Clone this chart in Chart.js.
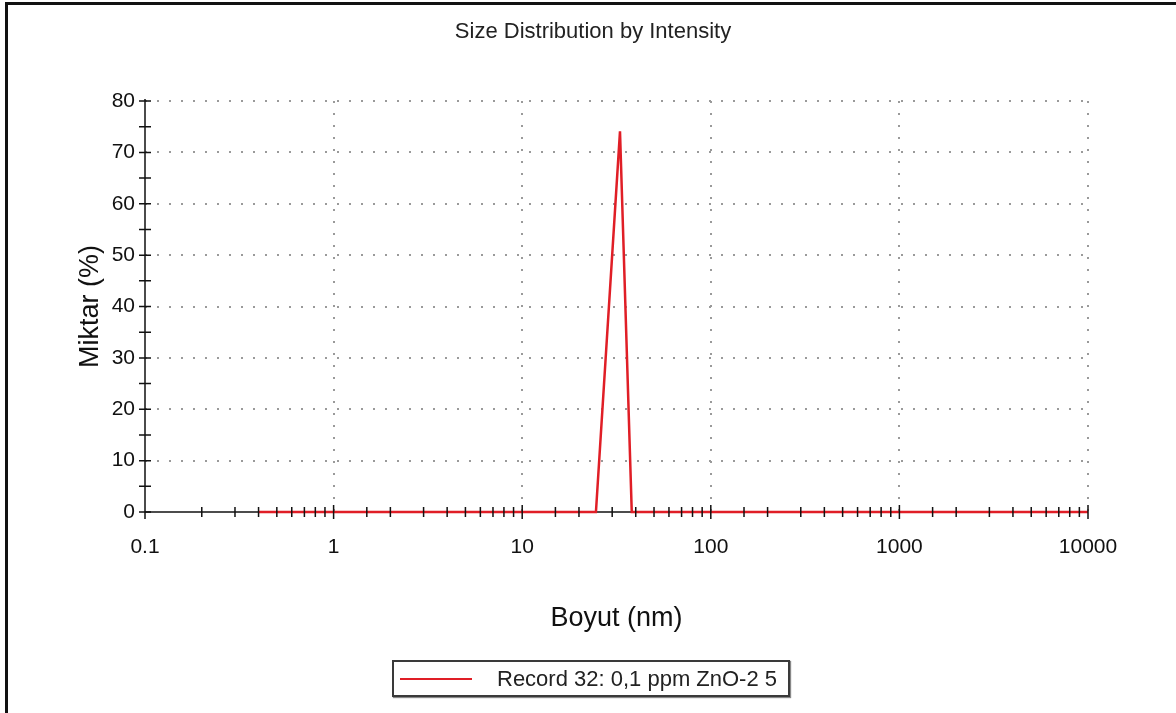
<!DOCTYPE html>
<html>
<head>
<meta charset="utf-8">
<script src="https://cdn.jsdelivr.net/npm/chart.js@4"></script>
<style>
  body { margin: 0; background: #fff; }
  #wrap { position: relative; width: 1176px; height: 713px; overflow: hidden; }
  #frame { position: absolute; left: 5px; top: 2px; right: -10px; bottom: -10px;
           border-left: 3px solid #111; border-top: 3px solid #111; pointer-events: none; }
  #legend { position: absolute; left: 392px; top: 660px; width: 394px; height: 33px;
            border: 2px solid #3a3a3a; box-shadow: 1px 1px 1px #888; background: #fff;
            font-family: 'Liberation Sans', Arial, sans-serif; font-size: 22px; color: #222;
            display: flex; align-items: center; }
  #legend .swatch { display: inline-block; width: 72px; height: 2px; background: #e01e26;
                    margin-left: 6px; margin-right: 25px; }
</style>
</head>
<body>
<div id="wrap">
  <canvas id="myChart"></canvas>
  <div id="frame"></div>
  <div id="legend"><span class="swatch"></span><span id="legendText"></span></div>
</div>
<script>
// values
let sizes = [0.4, 24.6, 33.0, 38.1, 10000];      // Boyut (nm)
let amounts = [0, 0, 74.1, 0, 0];                 // Miktar (%)
let seriesLabel = 'Record 32: 0,1 ppm ZnO-2 5';
let xTickLabels = ['0.1', '1', '10', '100', '1000', '10000'];
let yTicks = [0, 10, 20, 30, 40, 50, 60, 70, 80];

document.getElementById('legendText').innerText = seriesLabel;

Chart.defaults.font.family = "'Liberation Sans', Arial, sans-serif";
Chart.defaults.color = '#111';

function isDecade(v){
    let l = Math.log10(v);
    return Math.abs(l - Math.round(l)) < 1e-9;
}

const axesPlugin = {
    id: 'axesPlugin',
    beforeDatasetsDraw(chart){
        const {ctx, chartArea, scales} = chart;
        const y0 = scales.y.getPixelForValue(0);
        ctx.save();
        ctx.strokeStyle = '#111';
        ctx.lineWidth = 1.5;
        ctx.beginPath();
        ctx.moveTo(chartArea.left, y0);
        ctx.lineTo(chartArea.right, y0);
        ctx.stroke();
        ctx.restore();
    },
    afterDatasetsDraw(chart){
        const {ctx, chartArea, scales} = chart;
        const x = scales.x, y = scales.y;
        const y0 = y.getPixelForValue(0);
        ctx.save();
        ctx.strokeStyle = '#111';
        ctx.lineWidth = 1.5;
        ctx.beginPath();
        ctx.moveTo(chartArea.left, chartArea.bottom + 1);
        ctx.lineTo(chartArea.left, chartArea.top - 2);
        // x ticks crossing the axis
        x.ticks.forEach(t => {
            let px = x.getPixelForValue(t.value);
            let len = isDecade(t.value) ? 7 : 5;
            ctx.moveTo(px, y0 - len);
            ctx.lineTo(px, y0 + len);
        });
        // y ticks every 5
        for (let v = y.min; v <= y.max; v += 5){
            let py = y.getPixelForValue(v);
            ctx.moveTo(chartArea.left - 6, py);
            ctx.lineTo(chartArea.left + 6, py);
        }
        ctx.stroke();
        ctx.restore();
    }
};

const ctx = document.getElementById('myChart').getContext('2d');
const data = {
    datasets: [{
        label: seriesLabel,
        data: sizes.map((s, i) => ({x: s, y: amounts[i]})),
        borderColor: '#e01e26',
        borderWidth: 2.5,
        pointRadius: 0,
        tension: 0,
        fill: false,
        clip: false
    }]
};
const config = {
    type: 'line',
    data: data,
    options: {
        responsive: true,
        maintainAspectRatio: false,
        animation: false,
        layout: { padding: { left: 10, right: 0, top: 0, bottom: 75 } },
        plugins: {
            legend: { display: false },
            tooltip: { enabled: false },
            title: {
                display: true,
                text: 'Size Distribution by Intensity',
                color: '#222',
                font: { size: 22, weight: 'normal' },
                padding: { top: 19, bottom: 55.6 }
            }
        },
        scales: {
            x: {
                type: 'logarithmic',
                min: 0.1,
                max: 10000,
                afterFit: scale => { scale.height = 126; },
                border: { display: false, dash: [2, 10] },
                grid: {
                    drawTicks: false,
                    lineWidth: 2,
                    color: c => (c.tick && isDecade(c.tick.value) && c.tick.value > 0.1) ? '#9a9a9a' : 'rgba(0,0,0,0)'
                },
                ticks: {
                    autoSkip: false,
                    maxRotation: 0,
                    padding: 23,
                    color: '#111',
                    font: { size: 21 },
                    callback: v => {
                        let lbl = xTickLabels.find(s => Math.abs(parseFloat(s) - v) < 1e-9 * Math.max(1, v));
                        return lbl || '';
                    }
                },
                title: {
                    display: true,
                    text: 'Boyut (nm)',
                    color: '#111',
                    font: { size: 27 },
                    padding: { top: 0, bottom: 3 }
                }
            },
            y: {
                min: 0,
                max: 80,
                afterFit: scale => { scale.width = 135; },
                afterBuildTicks: scale => { scale.ticks = yTicks.map(v => ({value: v})); },
                border: { display: false, dash: [2, 10] },
                grid: {
                    drawTicks: false,
                    lineWidth: 2,
                    color: c => (c.tick && c.tick.value > 0) ? '#9a9a9a' : 'rgba(0,0,0,0)'
                },
                ticks: {
                    padding: 10,
                    color: '#111',
                    font: { size: 21 }
                },
                title: {
                    display: true,
                    text: 'Miktar (%)',
                    color: '#111',
                    font: { size: 27 },
                    padding: { top: 64, bottom: 0 }
                }
            },
            // empty right-hand axis that only reserves the margin right of the plot
            yRight: {
                position: 'right',
                min: 0,
                max: 80,
                afterFit: scale => { scale.width = 88; },
                border: { display: false },
                grid: { display: false, drawTicks: false },
                ticks: { display: false }
            }
        }
    },
    plugins: [axesPlugin]
};
const myChart = new Chart(ctx, config);
</script>
</body>
</html>
